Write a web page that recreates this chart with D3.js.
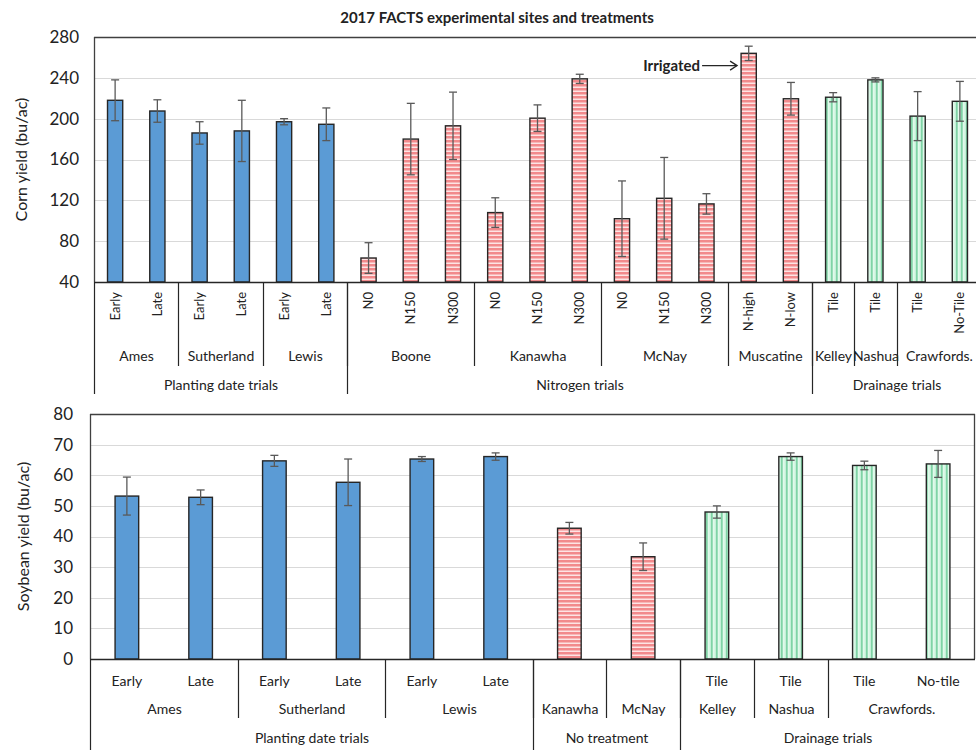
<!DOCTYPE html>
<html>
<head>
<meta charset="utf-8">
<script src="https://cdn.jsdelivr.net/npm/d3@7/dist/d3.min.js"></script>
<style>
  body { margin: 0; background: #fff; }
  svg { font-family: Lato, "Open Sans", sans-serif; }
</style>
</head>
<body>
<svg id="chart" width="976" height="750"></svg>
<script>
// ---- corn (top panel) ----
var cornTreat = ["Early","Late","Early","Late","Early","Late","N0","N150","N300","N0","N150","N300","N0","N150","N300","N-high","N-low","Tile","Tile","Tile","No-Tile"];
var cornYield = [218, 207.5, 186, 188, 197, 194.5, 63.5, 180, 193, 108, 200.5, 239, 102, 122, 116.5, 264, 219.5, 221, 238, 202.5, 217];
var cornErr   = [20, 11, 11, 30, 3, 16, 15, 35, 33, 14.5, 13, 4.5, 37, 40, 10, 7, 16, 4.5, 2, 24, 19.5];
var cornKind  = ["plant","plant","plant","plant","plant","plant","nitro","nitro","nitro","nitro","nitro","nitro","nitro","nitro","nitro","nitro","nitro","drain","drain","drain","drain"];
var cornSites = ["Ames","Sutherland","Lewis","Boone","Kanawha","McNay","Muscatine","Kelley","Nashua","Crawfords."];
var cornSiteSize = [2,2,2,3,3,3,2,1,1,2];
var cornTrials = ["Planting date trials","Nitrogen trials","Drainage trials"];
var cornTrialSize = [6,11,4];
var cornTicks = [40,80,120,160,200,240,280];

// ---- soybean (bottom panel) ----
var soyTreat = ["Early","Late","Early","Late","Early","Late","","","Tile","Tile","Tile","No-tile"];
var soyYield = [53.2, 52.8, 64.7, 57.7, 65.3, 66.1, 42.7, 33.4, 48, 66.1, 63.2, 63.7];
var soyErr   = [6.2, 2.4, 1.8, 7.6, 0.8, 1.2, 1.9, 4.5, 2, 1.2, 1.4, 4.4];
var soyKind  = ["plant","plant","plant","plant","plant","plant","nitro","nitro","drain","drain","drain","drain"];
var soySites = ["Ames","Sutherland","Lewis","Kanawha","McNay","Kelley","Nashua","Crawfords."];
var soySiteSize = [2,2,2,1,1,1,1,2];
var soyTrials = ["Planting date trials","No treatment","Drainage trials"];
var soyTrialSize = [6,2,4];
var soyTicks = [0,10,20,30,40,50,60,70,80];

var svg = d3.select("#chart");
var ink = "#262626";

// hatch patterns
var defs = svg.append("defs");
var red = defs.append("pattern").attr("id", "red").attr("patternUnits", "userSpaceOnUse")
  .attr("width", 4).attr("height", 4);
red.append("rect").attr("width", 4).attr("height", 4).attr("fill", "#f28a8c");
red.append("rect").attr("y", 2.5).attr("width", 4).attr("height", 1.5).attr("fill", "#fde4e4");
var green = defs.append("pattern").attr("id", "green").attr("patternUnits", "userSpaceOnUse")
  .attr("width", 5).attr("height", 5);
green.append("rect").attr("width", 5).attr("height", 5).attr("fill", "#c4f0d8");
green.append("rect").attr("x", 1).attr("width", 1.6).attr("height", 5).attr("fill", "#7fd3a5");
green.append("rect").attr("x", 3.4).attr("width", 1).attr("height", 5).attr("fill", "#f4fff8");

var fills = { plant: "#5b9bd5", nitro: "url(#red)", drain: "url(#green)" };

svg.append("text")
  .attr("x", 497).attr("y", 23)
  .attr("text-anchor", "middle")
  .attr("font-size", 15).attr("font-weight", "bold").attr("fill", "#222")
  .text("2017 FACTS experimental sites and treatments");

function panel(c) {
  var n = c.values.length;
  var x = d3.scaleBand().domain(d3.range(n)).range([c.left, c.right]);
  var y = d3.scaleLinear().domain([c.ticks[0], c.ticks[c.ticks.length - 1]]).range([c.bottom, c.top]);
  var bw = x.bandwidth(), w = bw * c.barFrac;
  var edge = function(k) { return Math.round(k === n ? c.right : x(k)) + 0.5; };
  var g = svg.append("g");

  // gridlines
  g.selectAll("line.grid").data(c.ticks.slice(1, -1)).enter().append("line")
    .attr("x1", c.left).attr("x2", c.right)
    .attr("y1", function(d) { return Math.round(y(d)) + 0.5; })
    .attr("y2", function(d) { return Math.round(y(d)) + 0.5; })
    .attr("stroke", "#d9d9d9").attr("stroke-width", 1.2);

  // y axis labels
  var ya = g.append("g").attr("transform", "translate(" + c.left + ",0)")
    .call(d3.axisLeft(y).tickValues(c.ticks).tickSize(0).tickPadding(c.tickPad));
  ya.select(".domain").remove();
  ya.selectAll("text").attr("font-family", "Lato, sans-serif").attr("font-size", 17).attr("fill", "#222");

  g.append("text")
    .attr("transform", "translate(" + c.labelX + "," + ((c.top + c.bottom) / 2) + ") rotate(-90)")
    .attr("text-anchor", "middle").attr("dy", "0.35em")
    .attr("font-size", c.labelSize).attr("fill", "#222")
    .text(c.label);

  // bars
  g.selectAll("rect.bar").data(c.values).enter().append("rect")
    .attr("x", function(d, i) { return x(i) + (bw - w) / 2; })
    .attr("y", function(d) { return y(d); })
    .attr("width", w)
    .attr("height", function(d) { return y(c.ticks[0]) - y(d); })
    .attr("fill", function(d, i) { return fills[c.kinds[i]]; })
    .attr("stroke", ink).attr("stroke-width", 1.4);

  // error bars
  var eb = g.selectAll("g.err").data(c.values).enter().append("g")
    .attr("stroke", "#595959").attr("stroke-width", 1.3);
  eb.append("line")
    .attr("x1", function(d, i) { return x(i) + bw / 2; })
    .attr("x2", function(d, i) { return x(i) + bw / 2; })
    .attr("y1", function(d, i) { return y(d + c.errs[i]); })
    .attr("y2", function(d, i) { return y(d - c.errs[i]); });
  [1, -1].forEach(function(s) {
    eb.append("line")
      .attr("x1", function(d, i) { return x(i) + bw / 2 - c.cap; })
      .attr("x2", function(d, i) { return x(i) + bw / 2 + c.cap; })
      .attr("y1", function(d, i) { return y(d + s * c.errs[i]); })
      .attr("y2", function(d, i) { return y(d + s * c.errs[i]); });
  });

  // frame
  g.append("line").attr("x1", c.left).attr("x2", c.right)
    .attr("y1", c.top + 0.5).attr("y2", c.top + 0.5).attr("stroke", "#404040").attr("stroke-width", 1.3);
  g.append("line").attr("x1", c.left + 0.5).attr("x2", c.left + 0.5)
    .attr("y1", c.top).attr("y2", c.bottom).attr("stroke", "#404040").attr("stroke-width", 1.3);
  if (c.rightBorder) {
    g.append("line").attr("x1", c.right - 0.5).attr("x2", c.right - 0.5)
      .attr("y1", c.top).attr("y2", c.bottom).attr("stroke", "#404040").attr("stroke-width", 1.3);
  }
  g.append("line").attr("x1", c.left).attr("x2", c.right)
    .attr("y1", c.bottom + 0.5).attr("y2", c.bottom + 0.5).attr("stroke", ink).attr("stroke-width", 1.5);

  // category level 1
  var l1 = g.selectAll("text.l1").data(c.treat).enter().append("text")
    .attr("font-size", c.l1Size).attr("fill", "#222")
    .text(function(d) { return d; });
  if (c.rotate) {
    l1.attr("transform", function(d, i) { return "translate(" + (x(i) + bw / 2) + "," + c.l1y + ") rotate(-90)"; })
      .attr("text-anchor", "end").attr("dy", "0.35em");
  } else {
    l1.attr("x", function(d, i) { return x(i) + bw / 2; }).attr("y", c.l1y).attr("text-anchor", "middle");
  }

  // level 2 (sites) and level 3 (trials)
  function level(names, sizes, ly, lineEnd, withStart) {
    var start = 0;
    names.forEach(function(name, j) {
      var end = start + sizes[j];
      g.append("text")
        .attr("x", (edge(start) + edge(end)) / 2).attr("y", ly)
        .attr("text-anchor", "middle").attr("font-size", 14).attr("fill", "#222")
        .text(name);
      if (start > 0 || withStart) {
        g.append("line").attr("x1", edge(start)).attr("x2", edge(start))
          .attr("y1", c.bottom).attr("y2", lineEnd)
          .attr("stroke", ink).attr("stroke-width", 1.2);
      }
      start = end;
    });
  }
  level(c.sites, c.siteSize, c.l2y, c.siteLineEnd, false);
  level(c.trials, c.trialSize, c.l3y, c.trialLineEnd, true);

  return { x: x, y: y, w: w };
}

var cornPanel = panel({
  values: cornYield, errs: cornErr, kinds: cornKind, treat: cornTreat,
  sites: cornSites, siteSize: cornSiteSize, trials: cornTrials, trialSize: cornTrialSize,
  ticks: cornTicks, left: 94, right: 981, top: 37, bottom: 282,
  barFrac: 0.36, cap: 4, tickPad: 15, label: "Corn yield (bu/ac)", labelX: 21, labelSize: 16,
  rotate: true, l1Size: 13, l1y: 292, l2y: 361, l3y: 390, siteLineEnd: 366, trialLineEnd: 394
});

panel({
  values: soyYield, errs: soyErr, kinds: soyKind, treat: soyTreat,
  sites: soySites, siteSize: soySiteSize, trials: soyTrials, trialSize: soyTrialSize,
  ticks: soyTicks, left: 90, right: 975, top: 414, bottom: 659, rightBorder: true,
  barFrac: 0.32, cap: 4, tickPad: 17, label: "Soybean yield (bu/ac)", labelX: 23, labelSize: 16,
  rotate: false, l1Size: 14, l1y: 686, l2y: 714, l3y: 743, siteLineEnd: 718, trialLineEnd: 750
});

// "Irrigated" note on the Muscatine N-high bar
var ix = cornPanel.x(15) + (cornPanel.x.bandwidth() - cornPanel.w) / 2 - 4;
var iy = cornPanel.y(252);
svg.append("line").attr("x1", ix - 35).attr("x2", ix).attr("y1", iy).attr("y2", iy)
  .attr("stroke", ink).attr("stroke-width", 1.3);
svg.append("path").attr("d", "M" + (ix - 7) + "," + (iy - 4.5) + "L" + ix + "," + iy + "L" + (ix - 7) + "," + (iy + 4.5))
  .attr("fill", "none").attr("stroke", ink).attr("stroke-width", 1.3);
svg.append("text").attr("x", ix - 37).attr("y", iy + 5)
  .attr("text-anchor", "end").attr("font-size", 15).attr("font-weight", "bold").attr("fill", "#222")
  .text("Irrigated");
</script>
</body>
</html>
